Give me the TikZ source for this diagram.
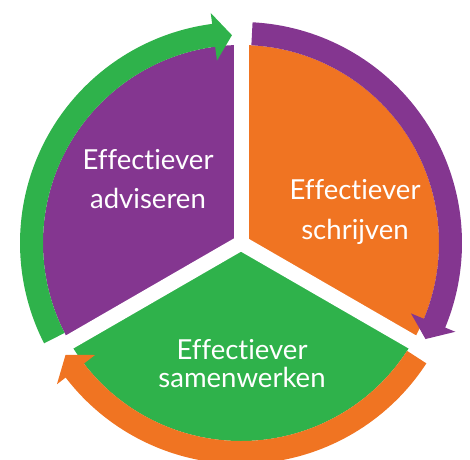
\documentclass[tikz,border=0pt]{standalone}
\usepackage{fontspec}
\setmainfont{Lato}[Ligatures={NoCommon}]
\definecolor{cyclepurple}{RGB}{132,54,144}
\definecolor{cycleorange}{RGB}{240,116,34}
\definecolor{cyclegreen}{RGB}{47,178,75}
% curved arrow round the pie: colour, tail angle, head base angle, tip angle
\newcommand{\ringarrow}[4]{%
  \fill[#1] (#2:198) arc[start angle=#2, end angle=#3, radius=198]
    -- (#3:184) -- (#4:208) -- (#3:232) -- (#3:221)
    arc[start angle=#3, end angle=#2, radius=221] -- cycle;}
\tikzset{
  label/.style={text=white, align=center, inner sep=0pt},
  gap/.style={white, line width=4.5mm}
}
\begin{document}
\begin{tikzpicture}[x=0.3mm,y=0.3mm]
    \useasboundingbox (-241,-216) rectangle (229,243);

    % the three sectors
    \fill[cyclepurple] (0,0) -- (90:198) arc[start angle=90, end angle=210, radius=198] -- cycle;
    \fill[cycleorange] (0,0) -- (-30:198) arc[start angle=-30, end angle=90, radius=198] -- cycle;
    \fill[cyclegreen] (0,0) -- (210:198) arc[start angle=210, end angle=330, radius=198] -- cycle;
    \foreach \a in {90,210,330}
        \draw[gap] (0,0) -- (\a:200);

    % arrows
    \ringarrow{cyclegreen}{207}{97.5}{92.5}
    \ringarrow{cyclepurple}{87}{-22.5}{-27.5}
    \ringarrow{cycleorange}{-33}{-142.5}{-147.5}

    \node[label, font=\fontsize{23.5}{34}\selectfont] (advies) at (-93,64) {Effectiever\\adviseren};
    \node[label, font=\fontsize{23.5}{34}\selectfont] (schrijf) at (114,31) {Effectiever\\schrijven};
    \node[label, font=\fontsize{23.5}{24}\selectfont] (samen) at (1,-121) {Effectiever\\samenwerken};
\end{tikzpicture}
\end{document}
